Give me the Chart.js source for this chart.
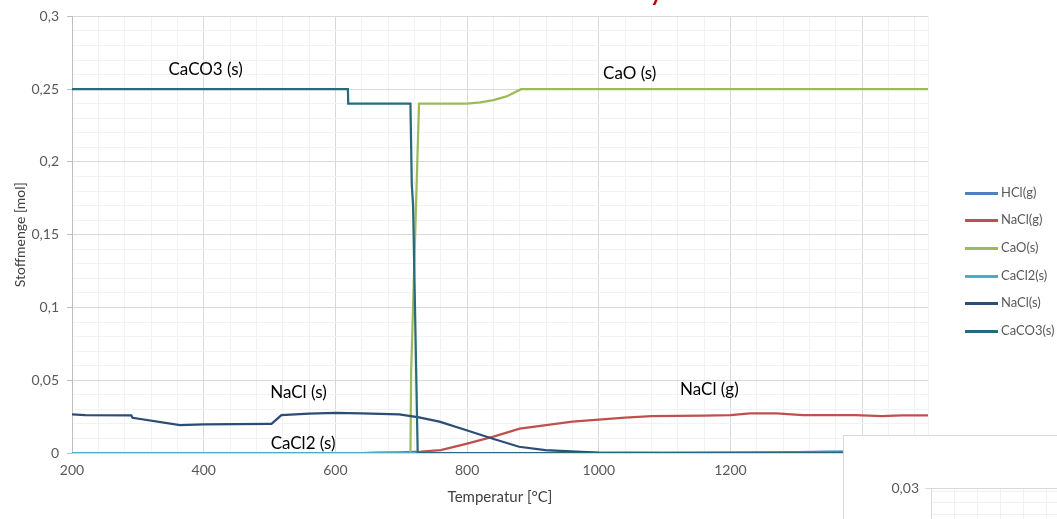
<!DOCTYPE html>
<html>
<head>
<meta charset="utf-8">
<script src="https://cdn.jsdelivr.net/npm/chart.js@4/dist/chart.umd.min.js"></script>
<style>
  body { margin: 0; background: #fff; overflow: hidden; }
  #wrap { position: relative; width: 1057px; height: 519px; overflow: hidden; font-family: Lato, "Open Sans", sans-serif; }
  #main { position: absolute; left: 0; top: 0; }
  #title { position: absolute; left: 650px; top: -22px; color: #c00000; font: bold 23px Lato, sans-serif; }
  #legend { position: absolute; left: 965px; top: 0; }
  .leg { position: absolute; left: 0; width: 100px; height: 14px; font-size: 13px; color: #595959; white-space: nowrap; }
  .leg span.ln { position: absolute; left: 0; top: 6px; width: 33px; height: 3px; }
  .leg span.tx { position: absolute; left: 36px; top: -2px; }
  #inset { position: absolute; left: 843px; top: 435px; width: 260px; height: 160px; border: 1px solid #d9d9d9; background: #fff; }
</style>
</head>
<body>
<div id="wrap">
  <canvas id="main" width="1057" height="519"></canvas>
  <div id="title">y</div>
  <div id="legend"></div>
  <div id="inset"><canvas id="small" width="260" height="160"></canvas></div>
</div>
<script>
// ==========================================
// DATA
// ==========================================

const seriesNames = ['HCl(g)', 'NaCl(g)', 'CaO(s)', 'CaCl2(s)', 'NaCl(s)', 'CaCO3(s)'];
const seriesColors = ['#4f81bd', '#c0504d', '#9bbb59', '#4bacc6', '#2c4d75', '#276a7c'];

const hclT = [200, 900, 1000, 1100, 1200, 1300, 1350, 1400, 1500];
const hclN = [0, 0, 0.0001, 0.0002, 0.0004, 0.0006, 0.001, 0.0012, 0.0012];

const naclGT = [200, 640, 660, 700, 730, 760, 800, 840, 880, 920, 960, 1000, 1040, 1080, 1120, 1160, 1200, 1230, 1270, 1310, 1350, 1390, 1430, 1460, 1500];
const naclGN = [0, 0, 0.0002, 0.0005, 0.001, 0.002, 0.0065, 0.0112, 0.0167, 0.0192, 0.0215, 0.023, 0.0243, 0.0253, 0.0255, 0.0257, 0.026, 0.0272, 0.0272, 0.026, 0.026, 0.026, 0.0253, 0.0258, 0.0258];

const caoT = [200, 714, 715, 727, 800, 820, 840, 860, 882, 1500];
const caoN = [0, 0, 0.055, 0.24, 0.24, 0.241, 0.2425, 0.245, 0.25, 0.25];

const cacl2T = [200, 400, 600, 800, 1000, 1200, 1400, 1500];
const cacl2N = [0, 0, 0, 0, 0, 0, 0, 0];

const naclST = [200, 220, 290, 292, 364, 400, 500, 503, 518, 560, 600, 640, 697, 727, 758, 798, 838, 879, 919, 965, 1000, 1100, 1500];
const naclSN = [0.0265, 0.026, 0.0258, 0.0242, 0.0192, 0.0197, 0.02, 0.02, 0.026, 0.027, 0.0276, 0.0272, 0.0265, 0.0245, 0.0215, 0.0158, 0.010, 0.0043, 0.002, 0.0009, 0.0003, 0, 0];

const caco3T = [200, 619, 619.5, 714, 716, 718, 725, 1500];
const caco3N = [0.25, 0.25, 0.24, 0.24, 0.185, 0.17, 0, 0];

const seriesT = [hclT, naclGT, caoT, cacl2T, naclST, caco3T];
const seriesN = [hclN, naclGN, caoN, cacl2N, naclSN, caco3N];

const xTickLabels = [200, 400, 600, 800, 1000, 1200, 1400];
const yTickLabels = [0, 0.05, 0.1, 0.15, 0.2, 0.25, 0.3];

// text placed in the plot at data coordinates
const notes = [
    { text: 'CaCO3 (s)', x: 403, y: 0.2637 },
    { text: 'CaO (s)', x: 1047, y: 0.261 },
    { text: 'NaCl (s)', x: 544, y: 0.0418 },
    { text: 'CaCl2 (s)', x: 551, y: 0.0068 },
    { text: 'NaCl (g)', x: 1168, y: 0.0438 }
];

// ==========================================
// HELPERS
// ==========================================

const FONT = 'Lato, "Open Sans", sans-serif';
const fmt = v => String(Math.round(v * 1000) / 1000).replace('.', ',');
const isMajorX = v => xTickLabels.some(t => Math.abs(t - v) < 0.01);
const isMajorY = v => yTickLabels.some(t => Math.abs(t - v) < 1e-6);

function gridValues(from, to, step) {
    const out = [];
    for (let v = from; v <= to + step / 1000; v += step) out.push(Math.round(v * 10000) / 10000);
    return out;
}

const notePlugin = {
    id: 'notes',
    afterDatasetsDraw(chart) {
        const { ctx, scales } = chart;
        ctx.save();
        ctx.font = '17px ' + FONT;
        ctx.fillStyle = '#000';
        ctx.textAlign = 'center';
        ctx.textBaseline = 'middle';
        notes.forEach(n => ctx.fillText(n.text, scales.x.getPixelForValue(n.x), scales.y.getPixelForValue(n.y)));
        ctx.restore();
    }
};

// ==========================================
// MAIN CHART
// ==========================================

const datasets = seriesNames.map((name, i) => ({
    label: name,
    data: seriesT[i].map((t, k) => ({ x: t, y: seriesN[i][k] })),
    borderColor: seriesColors[i],
    backgroundColor: seriesColors[i],
    borderWidth: 2.25,
    pointRadius: 0,
    tension: 0,
    order: seriesNames.length - i
}));

new Chart(document.getElementById('main').getContext('2d'), {
    type: 'line',
    data: { datasets },
    options: {
        responsive: false,
        animation: false,
        layout: { padding: { left: 0, top: 14, right: 129, bottom: 0 } },
        plugins: { legend: { display: false }, tooltip: { enabled: false } },
        scales: {
            x: {
                type: 'linear', min: 200, max: 1500,
                afterBuildTicks: axis => { axis.ticks = gridValues(200, 1480, 40).concat([1500]).map(v => ({ value: v })); },
                grid: {
                    color: c => isMajorX(c.tick.value) ? '#d9d9d9' : '#f2f2f2',
                    drawTicks: false
                },
                border: { display: false },
                ticks: {
                    autoSkip: false, maxRotation: 0, padding: 9,
                    color: '#595959', font: { family: FONT, size: 14 },
                    callback: v => isMajorX(v) ? String(v) : ''
                },
                title: { display: true, text: 'Temperatur [°C]', color: '#404040', font: { family: FONT, size: 15 }, padding: { top: 3, bottom: 13 } },
                afterFit: axis => { axis.height = 66; }
            },
            y: {
                type: 'linear', min: 0, max: 0.3,
                afterBuildTicks: axis => { axis.ticks = gridValues(0, 0.3, 0.01).map(v => ({ value: v })); },
                grid: {
                    color: c => isMajorY(c.tick.value) ? '#d9d9d9' : '#f2f2f2',
                    tickColor: c => isMajorY(c.tick.value) ? '#bfbfbf' : 'rgba(0,0,0,0)',
                    tickLength: 5
                },
                border: { display: true, color: '#bfbfbf' },
                ticks: {
                    autoSkip: false, padding: 8,
                    color: '#595959', font: { family: FONT, size: 14 },
                    callback: v => isMajorY(v) ? fmt(v) : ''
                },
                title: { display: true, text: 'Stoffmenge [mol]', color: '#404040', font: { family: FONT, size: 14 }, padding: { top: 12, bottom: 4 } },
                afterFit: axis => { axis.width = 72; }
            }
        }
    },
    plugins: [notePlugin]
});

// legend, from the same series arrays
const legendTops = [193, 220, 248, 276, 303, 331];
const legendBox = document.getElementById('legend');
seriesNames.forEach((name, i) => {
    const d = document.createElement('div');
    d.className = 'leg';
    d.style.top = (legendTops[i] - 7) + 'px';
    d.innerHTML = `<span class="ln" style="background:${seriesColors[i]}"></span><span class="tx">${name}</span>`;
    legendBox.appendChild(d);
});

// ==========================================
// INSET (second chart, mostly cut off)
// ==========================================

new Chart(document.getElementById('small').getContext('2d'), {
    type: 'line',
    data: { datasets: [{ data: [] }] },
    options: {
        responsive: false,
        animation: false,
        layout: { padding: { left: 0, top: 52, right: 0, bottom: 0 } },
        plugins: { legend: { display: false }, tooltip: { enabled: false } },
        scales: {
            x: {
                type: 'linear', min: 0, max: 180,
                afterBuildTicks: axis => { axis.ticks = gridValues(0, 180, 24).map(v => ({ value: v })); },
                grid: { color: '#f0f0f0', drawTicks: false },
                border: { display: false },
                ticks: { display: false }
            },
            y: {
                type: 'linear', min: 0, max: 0.03,
                afterBuildTicks: axis => { axis.ticks = gridValues(0, 0.03, 0.0036).concat([0.03]).map(v => ({ value: v })); },
                grid: { color: c => c.tick.value === 0.03 ? '#d9d9d9' : '#f0f0f0', tickLength: 6, tickColor: c => c.tick.value === 0.03 ? '#d9d9d9' : 'rgba(0,0,0,0)' },
                border: { display: true, color: '#d9d9d9' },
                ticks: {
                    autoSkip: false, padding: 6, color: '#595959', font: { family: FONT, size: 14 },
                    callback: v => Math.abs(v - 0.03) < 1e-6 ? '0,03' : ''
                },
                afterFit: axis => { axis.width = 87; }
            }
        }
    }
});
</script>
</body>
</html>
